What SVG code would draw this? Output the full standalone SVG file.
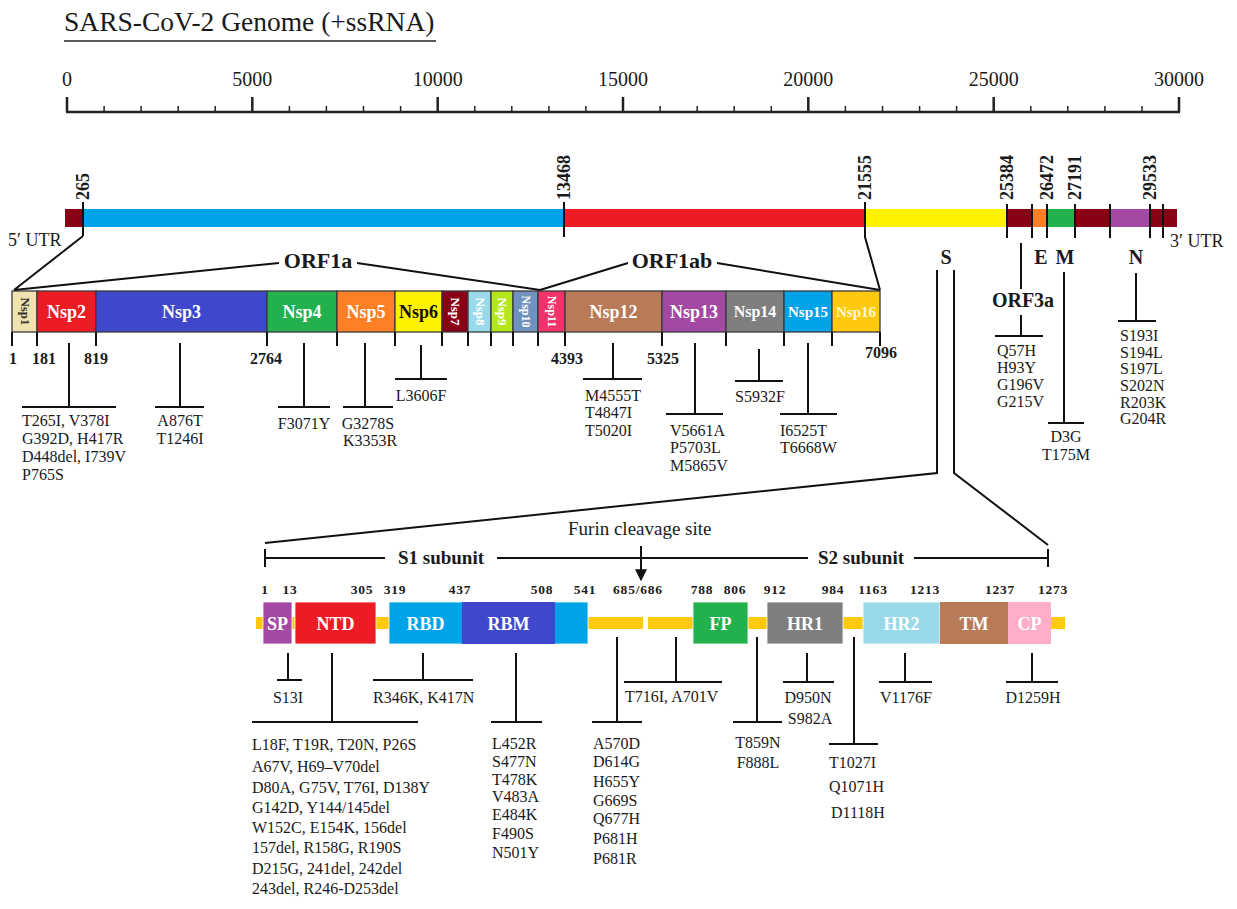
<svg xmlns="http://www.w3.org/2000/svg" width="1237" height="909" viewBox="0 0 1237 909">
<defs>
<marker id="arr" viewBox="0 0 10 10" refX="9" refY="5" markerWidth="12" markerHeight="12" orient="auto" markerUnits="userSpaceOnUse">
<path d="M0,0 L10,5 L0,10 z" fill="#111"/>
</marker>
</defs>
<style>
text { font-family: "Liberation Serif", "Times New Roman", serif; fill:#1a1a1a; }
.ln { stroke:#111; stroke-width:2; fill:none; }
.thin { stroke:#222; stroke-width:1.5; fill:none; }
.ax { stroke:#222; stroke-width:2.5; fill:none; }
.mut { font-size:16px; }
.mc { font-size:16px; text-anchor:middle; }
.nl { font-size:18px; font-weight:bold; fill:#fff; text-anchor:middle; }
.nr { font-size:13px; font-weight:bold; fill:#fff; text-anchor:middle; }
.num { font-size:16px; font-weight:bold; text-anchor:middle; }
.gl { font-size:18px; font-weight:bold; }
.sn { font-size:13.5px; font-weight:bold; text-anchor:middle; letter-spacing:0.8px; }
.hd { font-size:20px; font-weight:bold; text-anchor:middle; }
.sc { font-size:20px; text-anchor:middle; }
.bd { stroke:#3a3a3a; stroke-width:1.3; }
.sp { stroke:#ffffff; stroke-width:0.8; }
</style>

<!-- title & scale -->
<g id="title">
<text x="64" y="31" font-size="27.5">SARS-CoV-2 Genome (+ssRNA)</text>
<line x1="64" y1="41" x2="436" y2="41" class="thin"/>
</g>
<g id="scale">
<line x1="66" y1="112" x2="1180" y2="112" class="ax"/>
<path class="ax" d="M67,97V112 M252.3,97V112 M437.7,97V112 M623,97V112 M808.3,97V112 M993.7,97V112 M1179,97V112"/>
<path class="thin" stroke-width="1" d="M104.1,106V112 M141.1,106V112 M178.2,106V112 M215.2,106V112 M289.4,106V112 M326.4,106V112 M363.5,106V112 M400.6,106V112 M474.8,106V112 M511.8,106V112 M548.9,106V112 M585.9,106V112 M660.1,106V112 M697.2,106V112 M734.2,106V112 M771.3,106V112 M845.4,106V112 M882.5,106V112 M919.6,106V112 M956.6,106V112 M1030.8,106V112 M1067.8,106V112 M1104.9,106V112 M1142,106V112"/>
<text class="sc" x="67" y="86">0</text>
<text class="sc" x="252.3" y="86">5000</text>
<text class="sc" x="437.7" y="86">10000</text>
<text class="sc" x="623" y="86">15000</text>
<text class="sc" x="808.3" y="86">20000</text>
<text class="sc" x="993.7" y="86">25000</text>
<text class="sc" x="1179" y="86">30000</text>
</g>

<!-- genome bar -->
<g id="genome">
<rect x="65" y="209" width="18" height="18" fill="#880015"/>
<rect x="83" y="209" width="481" height="18" fill="#00A2E8"/>
<rect x="564" y="209" width="301" height="18" fill="#ED1C24"/>
<rect x="865" y="209" width="142" height="18" fill="#FFF200"/>
<rect x="1007" y="209" width="25" height="18" fill="#880015"/>
<rect x="1032" y="209" width="15" height="18" fill="#FF7F27"/>
<rect x="1047" y="209" width="28" height="18" fill="#22B14C"/>
<rect x="1075" y="209" width="35" height="18" fill="#880015"/>
<rect x="1110" y="209" width="40" height="18" fill="#A349A4"/>
<rect x="1150" y="209" width="27" height="18" fill="#880015"/>
<text transform="translate(89,200) rotate(-90)" class="gl">265</text>
<text transform="translate(570,200) rotate(-90)" class="gl">13468</text>
<text transform="translate(871,200) rotate(-90)" class="gl">21555</text>
<text transform="translate(1013,200) rotate(-90)" class="gl">25384</text>
<text transform="translate(1053,200) rotate(-90)" class="gl">26472</text>
<text transform="translate(1081,200) rotate(-90)" class="gl">27191</text>
<text transform="translate(1156,200) rotate(-90)" class="gl">29533</text>
<text x="8" y="246" font-size="18">5′ UTR</text>
<text x="1170" y="247" font-size="18">3′ UTR</text>
</g>

<g id="gene-labels">
<text class="hd" style="font-size:22px" x="318" y="268">ORF1a</text>
<text class="hd" style="font-size:22px" x="672" y="268">ORF1ab</text>
<text class="hd" x="946" y="264">S</text>
<text class="hd" x="1041" y="264">E</text>
<text class="hd" x="1065" y="264">M</text>
<text class="hd" x="1136" y="264">N</text>
<text class="hd" x="1023" y="307">ORF3a</text>
</g>

<!-- Nsp bar -->
<g id="nsp1"><rect x="12" y="291" width="25" height="41" fill="#EFE4B0" class="bd"/><text class="nr" style="fill:#333" transform="translate(24.5,311.5) rotate(90)" y="4">Nsp1</text></g>
<g id="nsp2"><rect x="37" y="291" width="59" height="41" fill="#ED1C24" class="bd"/><text class="nl" x="66.5" y="318">Nsp2</text></g>
<g id="nsp3"><rect x="96" y="291" width="171" height="41" fill="#3F48CC" class="bd"/><text class="nl" x="181.5" y="318">Nsp3</text></g>
<g id="nsp4"><rect x="267" y="291" width="70" height="41" fill="#22B14C" class="bd"/><text class="nl" x="302" y="318">Nsp4</text></g>
<g id="nsp5"><rect x="337" y="291" width="58" height="41" fill="#FF7F27" class="bd"/><text class="nl" x="366" y="318">Nsp5</text></g>
<g id="nsp6"><rect x="395" y="291" width="47" height="41" fill="#FFF200" class="bd"/><text class="nl" style="fill:#111" x="418.5" y="318">Nsp6</text></g>
<g id="nsp7"><rect x="442" y="291" width="26" height="41" fill="#880015" class="bd"/><text class="nr" transform="translate(455,311.5) rotate(90)" y="4">Nsp7</text></g>
<g id="nsp8"><rect x="468" y="291" width="23" height="41" fill="#99D9EA" class="bd"/><text class="nr" transform="translate(479.5,311.5) rotate(90)" y="4">Nsp8</text></g>
<g id="nsp9"><rect x="491" y="291" width="22" height="41" fill="#B5E61D" class="bd"/><text class="nr" transform="translate(502,311.5) rotate(90)" y="4">Nsp9</text></g>
<g id="nsp10"><rect x="513" y="291" width="25" height="41" fill="#7092BE" class="bd"/><text class="nr" style="font-size:12px" transform="translate(525.5,311.5) rotate(90)" y="4">Nsp10</text></g>
<g id="nsp11"><rect x="538" y="291" width="27" height="41" fill="#F2336B" class="bd"/><text class="nr" style="font-size:12px" transform="translate(551.5,311.5) rotate(90)" y="4">Nsp11</text></g>
<g id="nsp12"><rect x="565" y="291" width="97" height="41" fill="#B97A57" class="bd"/><text class="nl" x="613.5" y="318">Nsp12</text></g>
<g id="nsp13"><rect x="662" y="291" width="64" height="41" fill="#A349A4" class="bd"/><text class="nl" x="694" y="318">Nsp13</text></g>
<g id="nsp14"><rect x="726" y="291" width="58" height="41" fill="#7F7F7F" class="bd"/><text class="nl" style="font-size:16px" x="755" y="317">Nsp14</text></g>
<g id="nsp15"><rect x="784" y="291" width="48" height="41" fill="#00A2E8" class="bd"/><text class="nl" style="font-size:15px" x="808" y="317">Nsp15</text></g>
<g id="nsp16"><rect x="832" y="291" width="48" height="41" fill="#FFC90E" class="bd"/><text class="nl" style="font-size:15px;fill:#FFF6D8" x="856" y="317">Nsp16</text></g>

<g id="nsp-numbers">
<text class="num" x="13" y="364">1</text>
<text class="num" x="44" y="364">181</text>
<text class="num" x="96" y="364">819</text>
<text class="num" x="266" y="364">2764</text>
<text class="num" x="567" y="364">4393</text>
<text class="num" x="663" y="364">5325</text>
<text class="num" x="881" y="358">7096</text>
</g>

<!-- Nsp mutations -->
<g id="nsp-mutations">
<text class="mut" x="22" y="426">T265I, V378I</text>
<text class="mut" x="22" y="444">G392D, H417R</text>
<text class="mut" x="22" y="462">D448del, I739V</text>
<text class="mut" x="22" y="480">P765S</text>
<text class="mc" x="180" y="426">A876T</text>
<text class="mc" x="180" y="444">T1246I</text>
<text class="mc" x="304" y="429">F3071Y</text>
<text class="mc" x="368" y="429">G3278S</text>
<text class="mc" x="370" y="446">K3353R</text>
<text class="mc" x="421" y="401">L3606F</text>
<text class="mut" x="585" y="401">M4555T</text>
<text class="mut" x="585" y="418">T4847I</text>
<text class="mut" x="585" y="436">T5020I</text>
<text class="mut" x="670" y="436">V5661A</text>
<text class="mut" x="670" y="453">P5703L</text>
<text class="mut" x="670" y="471">M5865V</text>
<text class="mut" x="735" y="402">S5932F</text>
<text class="mut" x="780" y="436">I6525T</text>
<text class="mut" x="780" y="453">T6668W</text>
<text class="mut" x="997" y="356">Q57H</text>
<text class="mut" x="997" y="373">H93Y</text>
<text class="mut" x="997" y="390">G196V</text>
<text class="mut" x="997" y="407">G215V</text>
<text class="mc" x="1066" y="442">D3G</text>
<text class="mc" x="1066" y="460">T175M</text>
<text class="mut" x="1120" y="341">S193I</text>
<text class="mut" x="1120" y="358">S194L</text>
<text class="mut" x="1120" y="374">S197L</text>
<text class="mut" x="1120" y="391">S202N</text>
<text class="mut" x="1120" y="408">R203K</text>
<text class="mut" x="1120" y="424">G204R</text>
</g>

<!-- Spike protein -->
<g id="spike-band">
<rect x="256" y="617" width="387" height="12" fill="#FFC90E"/>
<rect x="648" y="617" width="417" height="12" fill="#FFC90E"/>
</g>
<g id="sp"><rect x="263" y="602" width="29" height="42" fill="#A349A4" class="sp"/><text class="nl" x="277.5" y="630">SP</text></g>
<g id="ntd"><rect x="295" y="602" width="81" height="42" fill="#ED1C24" class="sp"/><text class="nl" x="335.5" y="630">NTD</text></g>
<g id="rbd"><rect x="389" y="602" width="199" height="42" fill="#00A2E8" class="sp"/><text class="nl" x="425.5" y="630">RBD</text></g>
<g id="rbm"><rect x="462" y="602" width="93" height="42" fill="#3F48CC"/><text class="nl" x="508.5" y="630">RBM</text></g>
<g id="fp"><rect x="693" y="602" width="55" height="42" fill="#22B14C" class="sp"/><text class="nl" x="720.5" y="630">FP</text></g>
<g id="hr1"><rect x="767" y="602" width="76" height="42" fill="#7F7F7F" class="sp"/><text class="nl" x="805" y="630">HR1</text></g>
<g id="hr2"><rect x="863" y="602" width="77" height="42" fill="#99D9EA" class="sp"/><text class="nl" x="901.5" y="630">HR2</text></g>
<g id="tm"><rect x="940" y="602" width="68" height="42" fill="#B97A57"/><text class="nl" x="974" y="630">TM</text></g>
<g id="cp"><rect x="1008" y="602" width="43" height="42" fill="#FFAEC9"/><text class="nl" x="1029.5" y="630">CP</text></g>

<g id="spike-numbers">
<text class="sn" x="265" y="594">1</text>
<text class="sn" x="290" y="594">13</text>
<text class="sn" x="362" y="594">305</text>
<text class="sn" x="395" y="594">319</text>
<text class="sn" x="460" y="594">437</text>
<text class="sn" x="542" y="594">508</text>
<text class="sn" x="585" y="594">541</text>
<text class="sn" x="638" y="594">685/686</text>
<text class="sn" x="702" y="594">788</text>
<text class="sn" x="735" y="594">806</text>
<text class="sn" x="775" y="594">912</text>
<text class="sn" x="833" y="594">984</text>
<text class="sn" x="873" y="594">1163</text>
<text class="sn" x="925" y="594">1213</text>
<text class="sn" x="1000" y="594">1237</text>
<text class="sn" x="1053" y="594">1273</text>
</g>

<g id="subunits">
<text font-size="19" x="568" y="535">Furin cleavage site</text>
<text class="hd" style="font-size:19px" x="441" y="564">S1 subunit</text>
<text class="hd" style="font-size:19px" x="861" y="564">S2 subunit</text>
</g>

<g id="spike-mutations">
<text class="mc" x="288" y="703">S13I</text>
<text class="mut" x="252" y="750">L18F, T19R, T20N, P26S</text>
<text class="mut" x="252" y="772">A67V, H69–V70del</text>
<text class="mut" x="252" y="793">D80A, G75V, T76I, D138Y</text>
<text class="mut" x="252" y="813">G142D, Y144/145del</text>
<text class="mut" x="252" y="833">W152C, E154K, 156del</text>
<text class="mut" x="252" y="853">157del, R158G, R190S</text>
<text class="mut" x="252" y="874">D215G, 241del, 242del</text>
<text class="mut" x="252" y="894">243del, R246-D253del</text>
<text class="mut" x="373" y="703">R346K, K417N</text>
<text class="mut" x="492" y="749">L452R</text>
<text class="mut" x="492" y="767">S477N</text>
<text class="mut" x="492" y="785">T478K</text>
<text class="mut" x="492" y="802">V483A</text>
<text class="mut" x="492" y="820">E484K</text>
<text class="mut" x="492" y="839">F490S</text>
<text class="mut" x="492" y="858">N501Y</text>
<text class="mut" x="593" y="749">A570D</text>
<text class="mut" x="593" y="767">D614G</text>
<text class="mut" x="593" y="787">H655Y</text>
<text class="mut" x="593" y="806">G669S</text>
<text class="mut" x="593" y="824">Q677H</text>
<text class="mut" x="593" y="844">P681H</text>
<text class="mut" x="593" y="864">P681R</text>
<text class="mut" x="625" y="702">T716I, A701V</text>
<text class="mc" x="758" y="748">T859N</text>
<text class="mc" x="758" y="768">F888L</text>
<text class="mc" x="808" y="703">D950N</text>
<text class="mc" x="810" y="724">S982A</text>
<text class="mut" x="829" y="768">T1027I</text>
<text class="mut" x="829" y="792">Q1071H</text>
<text class="mut" x="831" y="818">D1118H</text>
<text class="mc" x="906" y="703">V1176F</text>
<text class="mc" x="1033" y="703">D1259H</text>
</g>

<!-- connectors -->
<g id="connectors">
<path class="ln" d="M83,202V236 M564,202V237 M1007,204V238 M1032,204V238 M1047,204V238 M1075,204V238 M1110,204V238 M1150,204V238 M1163,204V238"/>
<path class="ln" d="M865,202V237 L880,290"/>
<path class="ln" d="M83,236 L14,290 M14,290 L279,263 M357,263 L540,290 M540,290 L628,263 M717,263 L880,290"/>
<path class="ln" d="M12,332V346 M37,332V346 M96,332V346 M267,332V346 M337,332V346 M395,332V346 M442,332V346 M468,332V346 M491,332V346 M513,332V346 M538,332V346 M565,332V346 M662,332V346 M726,332V346 M784,332V346 M832,332V346 M880,332V346"/>
<path class="ln" d="M69,343V407 M22,407H116 M180,343V407 M155,407H204 M304,343V407 M278,407H330 M365,343V407 M343,407H393 M421,345V379 M395,379H447 M613,343V379 M583,379H642 M695,343V414 M666,414H723 M759,349V381 M735,381H783 M808,343V414 M780,414H837"/>
<path class="ln" d="M1021,243V289 M1021,315V336 M995,336H1043 M1064,272V423 M1048,423H1084 M1136,273V321 M1118,321H1156"/>
<path class="ln" d="M937,270V473 L265,543 M954,270V473 L1048,545"/>
<path class="ln" d="M265,549V567 M1048,549V567 M265,558H385 M497,558H808 M914,558H1048"/>
<line class="ln" x1="641" y1="546" x2="641" y2="580" stroke-width="2.5" marker-end="url(#arr)"/>
<path class="ln" d="M288,653V680 M277,680H302 M332,653V722 M252,722H418 M423,653V680 M373,680H473 M516,653V722 M491,722H542 M617,637V722 M592,722H642 M676,637V682 M624,682H722 M757,637V722 M733,722H782 M807,653V682 M783,682H834 M854,637V744 M829,744H878 M905,653V682 M879,682H932 M1032,653V682 M1006,682H1058"/>
</g>
</svg>
